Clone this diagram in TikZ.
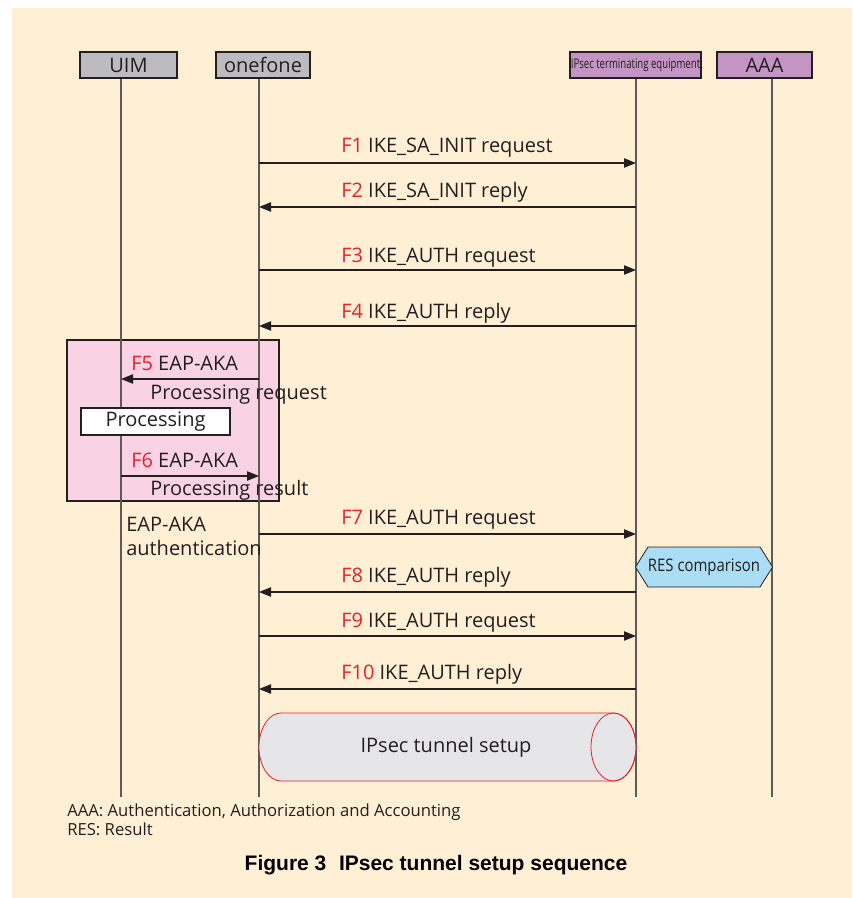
\documentclass[tikz,border=0pt]{standalone}
\usepackage{fontspec}
\setmainfont{Open Sans}
\newfontfamily\narrowfont[FakeStretch=0.72]{Open Sans}
\newfontfamily\resfont[FakeStretch=0.86]{Open Sans}
\newfontfamily\capfont{Liberation Sans}
\usepackage{xcolor}
\usepackage{tikz}
\usetikzlibrary{positioning,shapes.geometric,shapes.symbols,arrows.meta}

\definecolor{cream}{RGB}{255,239,212}
\definecolor{boxgray}{RGB}{188,188,192}
\definecolor{boxpurple}{RGB}{196,148,196}
\definecolor{pinkbox}{RGB}{249,210,228}
\definecolor{resblue}{RGB}{170,222,246}
\definecolor{tunnelgray}{RGB}{230,230,232}
\definecolor{redlbl}{RGB}{232,32,40}
\definecolor{textdark}{RGB}{35,31,32}
\definecolor{linegray}{RGB}{95,90,90}

\newcommand{\fno}[1]{\textcolor{redlbl}{#1}}

\begin{document}
\begin{tikzpicture}[x=0.75pt, y=-0.75pt, font=\fontsize{15}{18}\selectfont, text=textdark,
    actor/.style={rectangle, draw=textdark, line width=0.8pt, minimum height=19.5pt, inner sep=0pt},
    life/.style={draw=linegray, line width=0.9pt},
    msg/.style={draw=textdark, line width=0.8pt, -{Triangle[length=9pt,width=7pt]}},
    lbl/.style={anchor=base west, inner sep=0pt}]
    % background
    \useasboundingbox (0,0) rectangle (852,898);
    \fill [cream] (12,8) rectangle (852,898);

    % actors
    \node [actor, fill=boxgray, minimum width=72.75pt] (uim) at (128.5,65) {UIM};
    \node [actor, fill=boxgray, minimum width=70.5pt] (onefone) at (263,65) {onefone};
    \node [actor, fill=boxpurple, minimum width=98.25pt, font=\narrowfont\fontsize{10}{12}\selectfont] (ipsec) at (635.5,65) {IPsec terminating equipment};
    \node [actor, fill=boxpurple, minimum width=71.25pt] (aaa) at (764.5,65) {AAA};

    % EAP-AKA area
    \node [rectangle, draw=textdark, line width=0.8pt, fill=pinkbox, minimum width=159pt, minimum height=120.75pt] (eapbox) at (173,420.5) {};

    % lifelines
    \coordinate (uimend) at (121,797);
    \coordinate (oneend) at (259,797);
    \coordinate (ipsecend) at (636,797);
    \coordinate (aaaend) at (772,797);
    \draw [life] (uim.south -| uimend) -- (uimend);
    \draw [life] (onefone.south -| oneend) -- (oneend);
    \draw [life] (ipsec.south -| ipsecend) -- (ipsecend);
    \draw [life] (aaa.south -| aaaend) -- (aaaend);

    % messages
    \coordinate (f1a) at (259,163);  \coordinate (f1b) at (636,163);
    \coordinate (f2a) at (636,207);  \coordinate (f2b) at (259,207);
    \coordinate (f3a) at (259,270);  \coordinate (f3b) at (636,270);
    \coordinate (f4a) at (636,326);  \coordinate (f4b) at (259,326);
    \coordinate (f5a) at (259,379);  \coordinate (f5b) at (121,379);
    \coordinate (f6a) at (121,476);  \coordinate (f6b) at (259,476);
    \coordinate (f7a) at (259,534);  \coordinate (f7b) at (636,534);
    \coordinate (f8a) at (636,592);  \coordinate (f8b) at (259,592);
    \coordinate (f9a) at (259,636);  \coordinate (f9b) at (636,636);
    \coordinate (f10a) at (636,689); \coordinate (f10b) at (259,689);

    \draw [msg] (f1a) -- (f1b);
    \draw [msg] (f2a) -- (f2b);
    \draw [msg] (f3a) -- (f3b);
    \draw [msg] (f4a) -- (f4b);
    \draw [msg] (f5a) -- (f5b);
    \draw [msg] (f6a) -- (f6b);
    \draw [msg] (f7a) -- (f7b);
    \draw [msg] (f8a) -- (f8b);
    \draw [msg] (f9a) -- (f9b);
    \draw [msg] (f10a) -- (f10b);

    \node [lbl] (f1lbl) at (341,152.5) {\fno{F1} IKE\_SA\_INIT request};
    \node [lbl] (f2lbl) at (341,197.5) {\fno{F2} IKE\_SA\_INIT reply};
    \node [lbl] (f3lbl) at (341,262.5) {\fno{F3} IKE\_AUTH request};
    \node [lbl] (f4lbl) at (341,318.5) {\fno{F4} IKE\_AUTH reply};
    \node [lbl] (f5lbl) at (131,370.5) {\fno{F5} EAP-AKA};
    \node [lbl] (f5sub) at (150,399.5) {Processing request};
    \node [lbl] (f6lbl) at (131,467.5) {\fno{F6} EAP-AKA};
    \node [lbl] (f6sub) at (150,495.5) {Processing result};
    \node [lbl] (f7lbl) at (341,524.5) {\fno{F7} IKE\_AUTH request};
    \node [lbl] (f8lbl) at (341,582.5) {\fno{F8} IKE\_AUTH reply};
    \node [lbl] (f9lbl) at (341,627.5) {\fno{F9} IKE\_AUTH request};
    \node [lbl] (f10lbl) at (341,679.5) {\fno{F10} IKE\_AUTH reply};

    % processing on UIM
    \node [rectangle, draw=textdark, line width=0.8pt, fill=white, minimum width=111.75pt, minimum height=20.25pt, inner sep=0pt] (proc) at (155.5,421.5) {Processing};
    \node [lbl, align=left] (eaplbl) at (126,555.5) {EAP-AKA\\authentication};

    % RES comparison
    \node [signal, signal to=west and east, signal pointer angle=116, draw=textdark, line width=0.6pt, fill=resblue, minimum width=102pt, minimum height=30pt, inner sep=0pt, font=\resfont\fontsize{13}{15}\selectfont] (res) at (704,567) {RES comparison};

    % tunnel
    \draw [draw=redlbl, line width=0.6pt, fill=tunnelgray] (281,713) -- (613.5,713)
        arc [start angle=90, end angle=-90, x radius=16.875pt, y radius=25.5pt]
        -- (281,781) arc [start angle=270, end angle=90, x radius=16.5pt, y radius=25.5pt] -- cycle;
    \draw [draw=redlbl, line width=0.6pt] (613.5,747) ellipse [x radius=16.875pt, y radius=25.5pt];
    \node [inner sep=0pt] (tunnel) at (446,747) {IPsec tunnel setup};

    % notes and caption
    \node [lbl, align=left, font=\fontsize{12.5}{14.25}\selectfont] (notes) at (67,835.5) {AAA: Authentication, Authorization and Accounting\\RES: Result};
    \node [anchor=base, inner sep=0pt, font=\capfont\bfseries\fontsize{15.75}{18}\selectfont, text=black] (caption) at (436,870) {Figure 3\hspace{0.6em}IPsec tunnel setup sequence};
\end{tikzpicture}
\end{document}
